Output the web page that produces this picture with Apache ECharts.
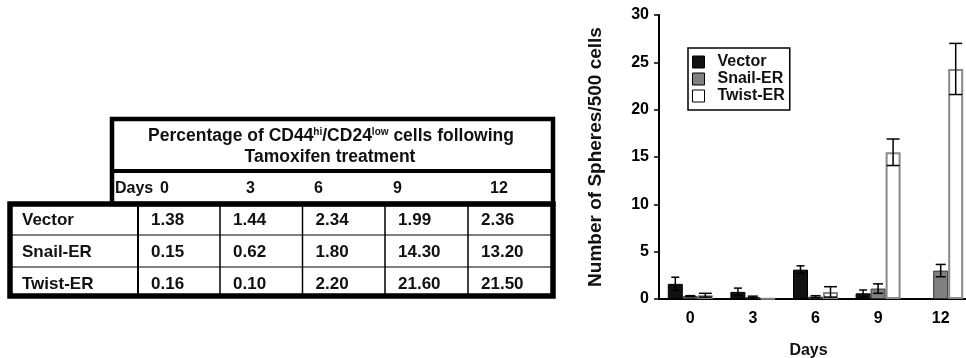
<!DOCTYPE html>
<html>
<head>
<meta charset="utf-8">
<script src="https://cdn.jsdelivr.net/npm/echarts@6/dist/echarts.min.js"></script>
<style>
html,body{margin:0;padding:0;background:#fff;}
#main{width:966px;height:358px;}
</style>
</head>
<body>
<div id="main"></div>
<script>
// ---- chart data ----
const categories = ['0', '3', '6', '9', '12'];
const seriesNames = ['Vector', 'Snail-ER', 'Twist-ER'];
const vectorValues = [1.6, 0.75, 3.1, 0.6, 0.1];
const vectorErr    = [0.7, 0.4, 0.4, 0.35, 0];
const snailValues  = [0.3, 0.2, 0.25, 1.1, 3.0];
const snailErr     = [0.05, 0.1, 0.1, 0.5, 0.65];
const twistValues  = [0.4, 0.05, 0.75, 15.5, 24.3];
const twistErr     = [0.2, 0, 0.55, 1.4, 2.7];
const yTicks = [0, 5, 10, 15, 20, 25, 30];

// ---- table data ----
const tableTitle1 = 'Percentage of CD44{sup|hi}/CD24{sup|low} cells following';
const tableTitle2 = 'Tamoxifen treatment';
const tableDaysLabel = 'Days';
const tableDays = ['0', '3', '6', '9', '12'];
const tableRowNames = ['Vector', 'Snail-ER', 'Twist-ER'];
const tableVector = ['1.38', '1.44', '2.34', '1.99', '2.36'];
const tableSnail  = ['0.15', '0.62', '1.80', '14.30', '13.20'];
const tableTwist  = ['0.16', '0.10', '2.20', '21.60', '21.50'];

const FONT = '"Liberation Sans", Arial, sans-serif';
const chart = echarts.init(document.getElementById('main'), null, {renderer: 'canvas'});

// ---- table graphics (layout only) ----
const tableRows = [tableVector, tableSnail, tableTwist];
const T = {left: 10, right: 553, headLeft: 112, headTop: 119, divY: 171, mainTop: 204, bottom: 296,
           colX: [138, 220, 302.5, 385, 468], rowLines: [235, 267], rowY: [220, 252.5, 284.5],
           dayX: [160, 246, 314, 393, 490]};
const g = [];
function line(x1, y1, x2, y2, w) {
  g.push({type: 'line', shape: {x1, y1, x2, y2}, style: {stroke: '#000', lineWidth: w}, silent: true});
}
function txt(text, x, y, size, align, extra) {
  g.push(Object.assign({type: 'text', silent: true, style: Object.assign({text, x, y, fill: '#111',
    font: 'bold ' + size + 'px ' + FONT, textAlign: align || 'left', textVerticalAlign: 'middle'}, extra || {})}));
}
// header box
g.push({type: 'rect', shape: {x: T.headLeft, y: T.headTop, width: T.right - T.headLeft, height: T.mainTop - T.headTop},
        style: {fill: 'none', stroke: '#000', lineWidth: 4.5}, silent: true});
line(T.headLeft, T.divY, T.right, T.divY, 4);
// main box
T.colX.forEach((x, i) => line(x, T.mainTop, x, T.bottom, i === 0 ? 2 : 1.5));
T.rowLines.forEach(y => line(T.left, y, T.right, y, 1));
g.push({type: 'rect', shape: {x: T.left, y: T.mainTop, width: T.right - T.left, height: T.bottom - T.mainTop},
        style: {fill: 'none', stroke: '#000', lineWidth: 5.5}, silent: true});
// texts
txt(tableTitle1, 331, 136, 17.5, 'center', {rich: {sup: {font: 'bold 10px ' + FONT, verticalAlign: 'top', fill: '#111'}}});
txt(tableTitle2, 330, 157, 17.5, 'center');
txt(tableDaysLabel, 115, 189, 16);
tableDays.forEach((d, i) => txt(d, T.dayX[i], 189, 16));
tableRowNames.forEach((n, r) => {
  txt(n, 22, T.rowY[r], 17);
  tableRows[r].forEach((v, c) => txt(v, T.colX[c] + 13, T.rowY[r], 17));
});

// ---- error bars ----
const valuesBySeries = [vectorValues, snailValues, twistValues];
const errBySeries = [vectorErr, snailErr, twistErr];
const errData = [];
valuesBySeries.forEach((vals, s) => vals.forEach((v, i) => {
  errData.push([i, v - errBySeries[s][i], v + errBySeries[s][i], s, errBySeries[s][i]]);
}));
const BAR_W = 15;
const capW = [8, 10, 13];

const option = {
  animation: false,
  backgroundColor: '#fff',
  graphic: g,
  legend: {
    data: seriesNames,
    orient: 'vertical',
    left: 688, top: 48,
    padding: [6, 5, 6, 4],
    icon: 'rect',
    itemWidth: 12, itemHeight: 12, itemGap: 1,
    borderColor: '#000', borderWidth: 1.5,
    itemStyle: {borderColor: '#000', borderWidth: 1},
    textStyle: {fontWeight: 'bold', fontSize: 16, fontFamily: FONT, color: '#111', lineHeight: 16, padding: [0, 0, 0, 8]},
    selectedMode: false
  },
  grid: {left: 659, top: 15, bottom: 59, right: -6, containLabel: false, outerBoundsMode: 'none'},
  xAxis: {
    type: 'category', data: categories,
    axisLine: {lineStyle: {color: '#000', width: 2}},
    axisTick: {length: 5, lineStyle: {color: '#000', width: 1.5}},
    axisLabel: {color: '#000', fontWeight: 'bold', fontSize: 16, fontFamily: FONT, margin: 12},
    name: 'Days', nameLocation: 'middle', nameGap: 44,
    nameTextStyle: {color: '#111', fontWeight: 'bold', fontSize: 16, fontFamily: FONT, padding: [0, 14, 0, 0]}
  },
  yAxis: {
    type: 'value', min: 0, max: 30, interval: 5,
    axisLine: {show: true, lineStyle: {color: '#000', width: 2}},
    axisTick: {show: true, length: 5, lineStyle: {color: '#000', width: 1.5}},
    splitLine: {show: false},
    axisLabel: {color: '#000', fontWeight: 'bold', fontSize: 16, fontFamily: FONT, margin: 10,
                customValues: yTicks},
    name: 'Number of Spheres/500 cells', nameLocation: 'middle', nameGap: 54,
    nameTextStyle: {color: '#111', fontWeight: 'bold', fontSize: 19, fontFamily: FONT}
  },
  series: [
    {name: 'Vector', type: 'bar', data: vectorValues, barWidth: BAR_W, barGap: '0%',
     itemStyle: {color: '#111', borderColor: '#000', borderWidth: 1}},
    {name: 'Snail-ER', type: 'bar', data: snailValues, barWidth: BAR_W, barGap: '0%',
     itemStyle: {color: '#808080', borderColor: '#333', borderWidth: 1}},
    {name: 'Twist-ER', type: 'bar', data: twistValues, barWidth: BAR_W, barGap: '0%',
     itemStyle: {color: '#fff', borderColor: '#888', borderWidth: 2}},
    {type: 'custom', data: errData, z: 10, silent: true,
     encode: {x: 0, y: [1, 2]},
     renderItem: function (params, api) {
       const err = api.value(4);
       if (!err) return null;
       const s = api.value(3);
       const lo = api.coord([api.value(0), api.value(1)]);
       const hi = api.coord([api.value(0), api.value(2)]);
       const x = lo[0] + (s - 1) * BAR_W;
       const hw = capW[s] / 2;
       const st = {stroke: '#000', lineWidth: 1.5};
       return {type: 'group', children: [
         {type: 'line', shape: {x1: x, y1: lo[1], x2: x, y2: hi[1]}, style: st},
         {type: 'line', shape: {x1: x - hw, y1: hi[1], x2: x + hw, y2: hi[1]}, style: st},
         {type: 'line', shape: {x1: x - hw, y1: lo[1], x2: x + hw, y2: lo[1]}, style: st}
       ]};
     }}
  ]
};
chart.setOption(option);
</script>
</body>
</html>
